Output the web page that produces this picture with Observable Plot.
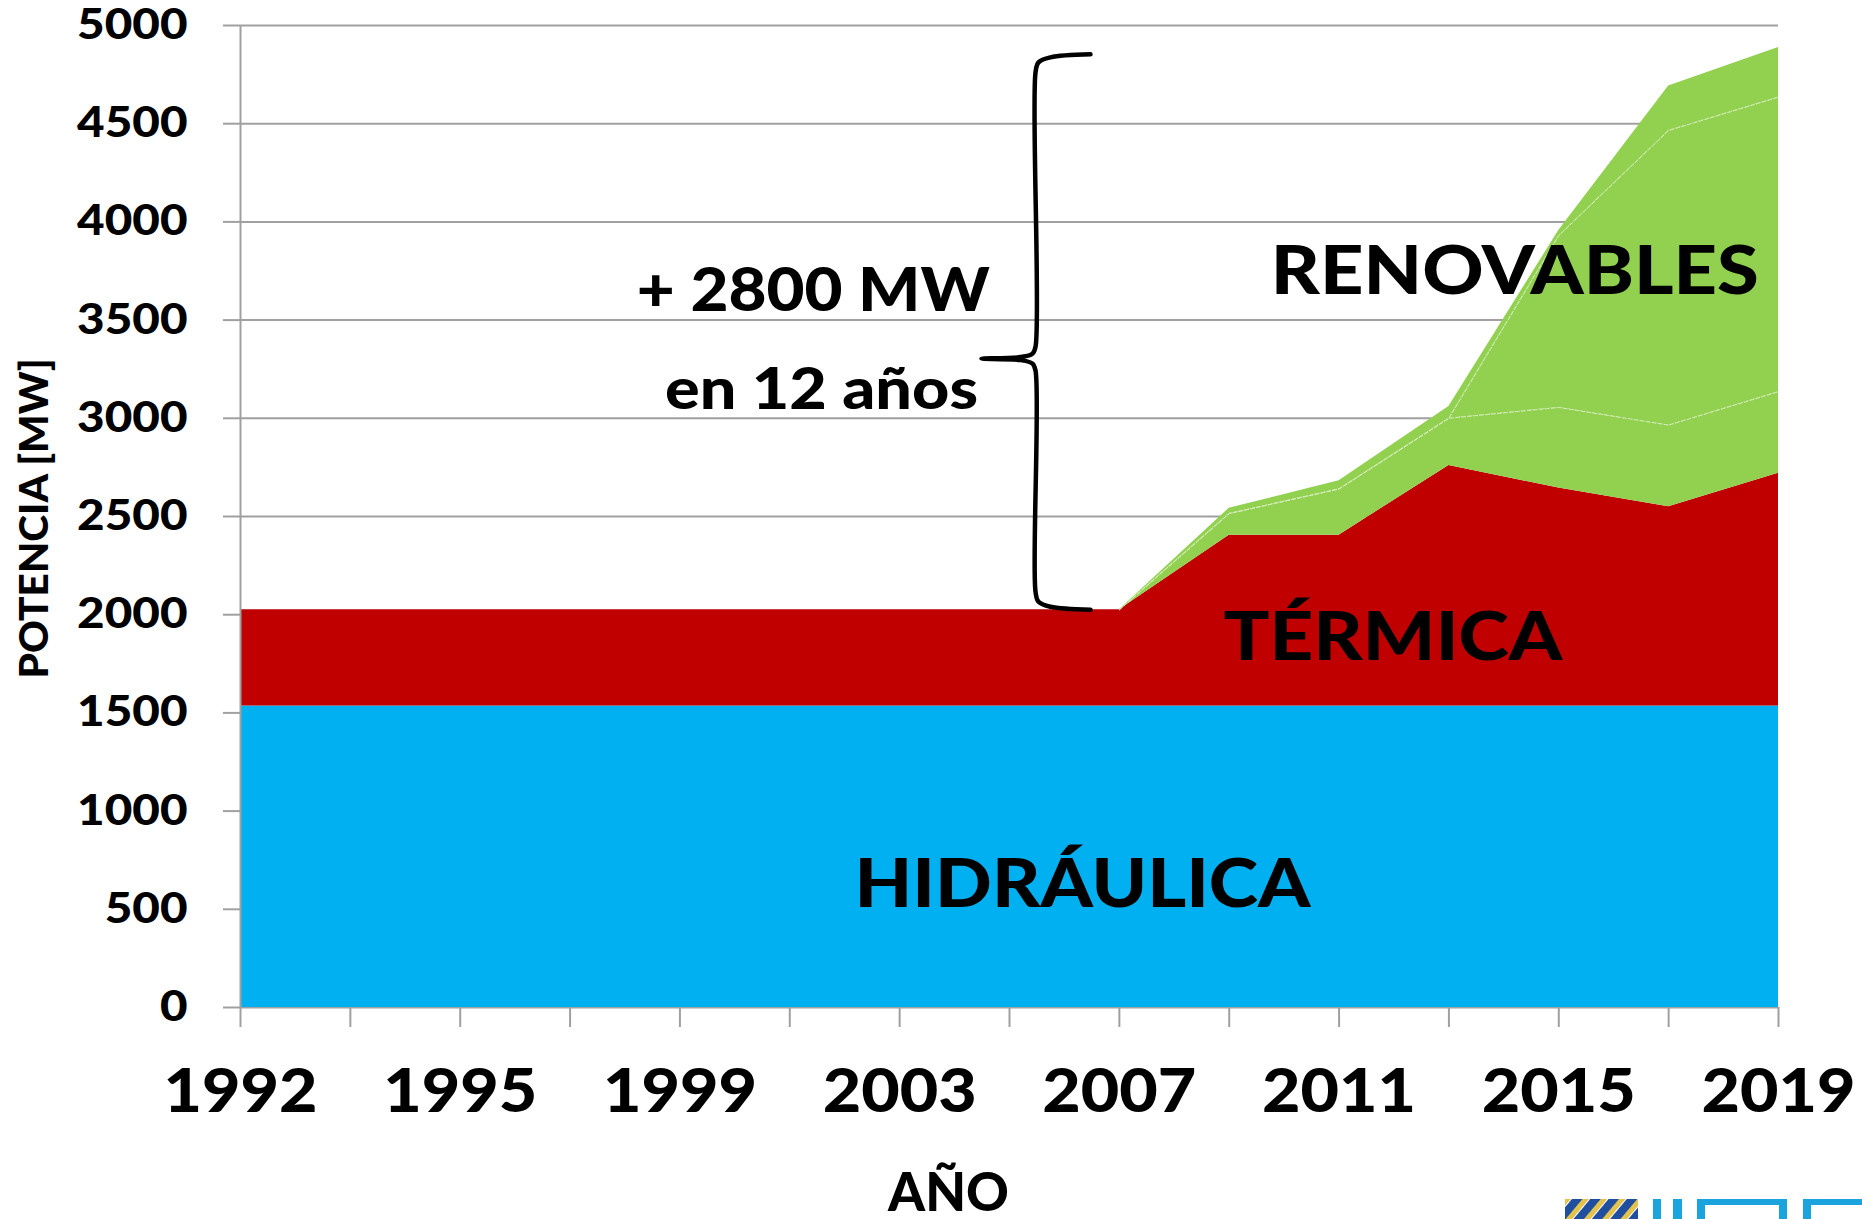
<!DOCTYPE html>
<html>
<head>
<meta charset="utf-8">
<script src="https://cdn.jsdelivr.net/npm/d3@7"></script>
<script src="https://cdn.jsdelivr.net/npm/@observablehq/plot@0.6"></script>
<style>
  html, body { margin: 0; padding: 0; background: #fff; }
  #chart { position: relative; width: 1862px; height: 1219px; overflow: hidden; }
  #logo { position: absolute; left: 1565px; top: 1198px; }
</style>
</head>
<body>
<div id="chart"></div>
<script>
// ---- Data (MW) ----
const years = ["1992","1993","1995","1997","1999","2001","2003","2005","2007","2009","2011","2013","2015","2017","2019"];
const hidraulica = [1535,1535,1535,1535,1535,1535,1535,1535,1535,1535,1535,1535,1535,1535,1535];
const termica    = [490,490,490,490,490,490,490,490,490,870,870,1225,1110,1015,1185];
const renovableA = [0,0,0,0,0,0,0,0,0,110,235,240,410,415,415];
const renovableB = [0,0,0,0,0,0,0,0,0,0,0,0,875,1500,1500];
const renovableC = [0,0,0,0,0,0,0,0,0,27,42,60,26,227,253];
const seriesNames = ["HIDRÁULICA","TÉRMICA","RENOVABLE A","RENOVABLE B","RENOVABLE C"];
const seriesColors = ["#00B0F0","#C00000","#92D050","#92D050","#92D050"];
const yTicks = [0,500,1000,1500,2000,2500,3000,3500,4000,4500,5000];

// Labels inside the chart (position in data units)
const labelNames = ["RENOVABLES","TÉRMICA","HIDRÁULICA"];
const labelX = [11.6, 10.49, 7.665];
const labelY = [3742, 1879, 621];
const noteLines = ["+ 2800 MW","en 12 años"];
const noteX = [5.214, 5.289];
const noteY = [3646, 3141];
const yTitle = "POTENCIA [MW]";
const xTitle = "AÑO";
// Brace annotation (data units)
const braceXVert = 7.237, braceXEnd = 7.737, braceXTip = 6.745;
const braceBottom = 2025, braceTop = 4853, braceMid = 3304;

// ---- Layout ----
const W = 1862, H = 1219, mL = 240, mR = 84, mT = 25, mB = 212;
const kx = (W - mL - mR) / (years.length - 1); // px per index
const ky = (H - mT - mB) / 5000;               // px per MW
const px = p => p / kx, py = p => p / ky;

const rows = [hidraulica, termica, renovableA, renovableB, renovableC]
  .flatMap((vals, s) => vals.map((v, i) => ({i, year: years[i], serie: seriesNames[s], valor: v})));

const cum1 = years.map((_, i) => hidraulica[i] + termica[i] + renovableA[i]);
const cum2 = years.map((_, i) => cum1[i] + renovableB[i]);
const start = years.indexOf("2007");
const idxGreen = d3.range(start, years.length);

const brace = [
  [braceXEnd, braceTop],
  [braceXVert + px(15), braceTop - py(3)],
  [braceXVert + px(3), braceTop - py(8)],
  [braceXVert, braceTop - py(18)],
  [braceXVert, braceMid + py(12)],
  [braceXVert - px(3), braceMid + py(5)],
  [braceXVert - px(15), braceMid + py(1.5)],
  [braceXTip, braceMid],
  [braceXVert - px(15), braceMid - py(1.5)],
  [braceXVert - px(3), braceMid - py(5)],
  [braceXVert, braceMid - py(12)],
  [braceXVert, braceBottom + py(18)],
  [braceXVert + px(3), braceBottom + py(8)],
  [braceXVert + px(15), braceBottom + py(3)],
  [braceXEnd, braceBottom]
];

const gray = "#a0a0a0";
const FW = 900;

const svg = Plot.plot({
  width: W, height: H,
  marginLeft: mL, marginRight: mR, marginTop: mT, marginBottom: mB,
  style: {fontFamily: "Lato, sans-serif", fontWeight: "bold", background: "white", color: "black", overflow: "visible"},
  x: {type: "linear", domain: [0, years.length - 1], label: null},
  y: {domain: [0, 5000], label: null},
  color: {domain: seriesNames, range: seriesColors},
  marks: [
    Plot.ruleY(yTicks, {stroke: gray, strokeWidth: 2}),
    Plot.areaY(rows, {x: "i", y: "valor", fill: "serie", order: seriesNames}),
    Plot.line(idxGreen, {x: i => i, y: i => cum1[i], stroke: "#d4edb8", strokeWidth: 1, strokeDasharray: "4,2"}),
    Plot.line(idxGreen, {x: i => i, y: i => cum2[i], stroke: "#d4edb8", strokeWidth: 1, strokeDasharray: "4,2"}),
    Plot.ruleX([0], {stroke: gray, strokeWidth: 2}),
    Plot.axisY(yTicks, {tickSize: 17, tickPadding: 36, fontSize: 42, fontWeight: FW, stroke: gray, strokeWidth: 2,
      tickFormat: d => String(d), label: null}),
    Plot.axisX(d3.range(years.length), {tickSize: 20, tickPadding: 41, fontSize: 61, fontWeight: FW, stroke: gray, strokeWidth: 2,
      tickFormat: i => (i % 2 === 0 ? years[i] : ""), label: null}),
    Plot.line(brace, {x: d => d[0], y: d => d[1], stroke: "black", strokeWidth: 4.5, curve: "catmull-rom"}),
    Plot.text(d3.range(labelNames.length), {x: i => labelX[i], y: i => labelY[i], text: i => labelNames[i],
      fontSize: 67, fontWeight: FW, fill: "black", textAnchor: "middle", lineAnchor: "middle"}),
    Plot.text([noteLines[0]], {x: noteX[0], y: noteY[0], text: d => d, fontSize: 61, fontWeight: FW, fill: "black",
      textAnchor: "middle", lineAnchor: "middle"}),
    Plot.text([noteLines[1]], {x: noteX[1], y: noteY[1], text: d => d, fontSize: 58, fontWeight: FW, fill: "black",
      textAnchor: "middle", lineAnchor: "middle"}),
    Plot.text([yTitle], {frameAnchor: "left", y: 2490, dx: -205, rotate: -90, text: d => d, fontSize: 40, fontWeight: FW,
      fill: "black", textAnchor: "middle", lineAnchor: "middle"}),
    Plot.text([xTitle], {x: 6.445, frameAnchor: "bottom", dy: 186, text: d => d, fontSize: 54, fontWeight: FW, fill: "black",
      textAnchor: "middle", lineAnchor: "middle"})
  ]
});

function fit(L, t) {
  L.setAttribute("textLength", t);
  L.setAttribute("lengthAdjust", "spacingAndGlyphs");
}
const lengths = {
  "RENOVABLES": 488, "TÉRMICA": 339, "HIDRÁULICA": 456,
  "+ 2800 MW": 353, "en 12 años": 313, "POTENCIA [MW]": 320, "AÑO": 121
};
d3.select(svg).selectAll("text").each(function() {
  const t = this.textContent;
  if (lengths[t] !== undefined) fit(this, lengths[t]);
});
d3.select(svg).selectAll('g[aria-label="y-axis tick label"] text').each(function() {
  const t = this.textContent; if (t) fit(this, t.length * 27.6);
});
d3.select(svg).selectAll('g[aria-label="x-axis tick label"] text').each(function() {
  const t = this.textContent; if (t) fit(this, 154);
});

document.getElementById("chart").appendChild(svg);

// Partial logo at bottom-right corner (decorative)
const logo = `
<svg id="logo" width="297" height="21" xmlns="http://www.w3.org/2000/svg">
  <defs>
    <pattern id="rayas" patternUnits="userSpaceOnUse" width="14" height="14" patternTransform="rotate(40)">
      <rect width="14" height="14" fill="#1f4f9e"/>
      <rect x="0" width="5" height="14" fill="#e3c24e"/>
      <rect x="5" width="1" height="14" fill="#ffffff"/>
    </pattern>
  </defs>
  <rect x="0" y="1" width="73" height="20" fill="url(#rayas)"/>
  <rect x="88" y="1" width="8" height="20" fill="#1aa3dc"/>
  <rect x="108" y="1" width="9" height="20" fill="#1aa3dc"/>
  <rect x="132" y="1" width="90" height="6" fill="#1aa3dc"/>
  <rect x="132" y="1" width="8" height="20" fill="#1aa3dc"/>
  <rect x="214" y="1" width="8" height="20" fill="#1aa3dc"/>
  <rect x="238" y="1" width="59" height="6" fill="#1aa3dc"/>
  <rect x="238" y="1" width="8" height="20" fill="#1aa3dc"/>
</svg>`;
document.getElementById("chart").insertAdjacentHTML("beforeend", logo);
</script>
</body>
</html>
